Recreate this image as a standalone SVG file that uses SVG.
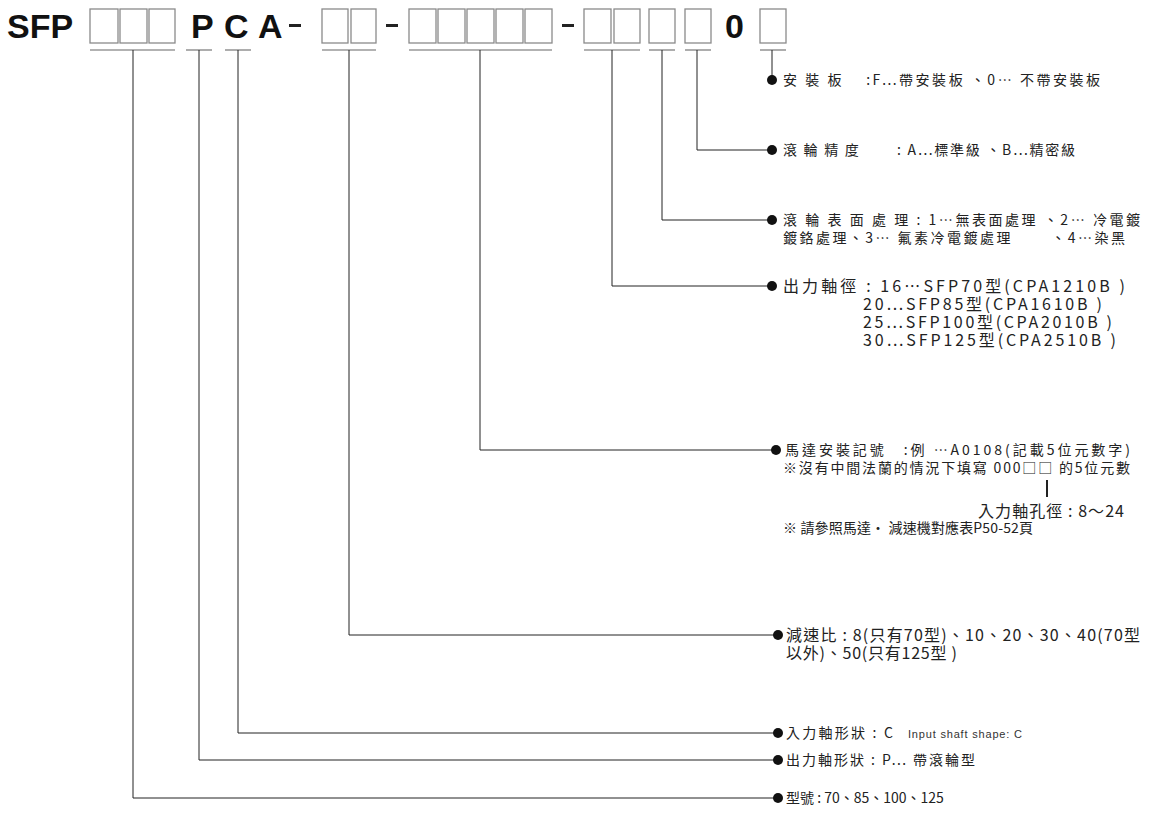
<svg xmlns="http://www.w3.org/2000/svg" width="1157" height="825" viewBox="0 0 1157 825">
<style>
.h{font-family:"Liberation Sans",Arial,sans-serif;font-weight:bold;font-size:34px;fill:#111}
.b{fill:none;stroke:#8a8a8a;stroke-width:1.3}
.u{stroke:#999;stroke-width:1.6}
.c{fill:none;stroke:#222;stroke-width:1}
.t{font-family:"Noto Sans CJK TC","Noto Sans",sans-serif;font-size:14px;fill:#222}
.l{font-size:16px}
.s{font-family:"Liberation Sans",sans-serif;font-size:11px;fill:#333}
</style>
<rect width="1157" height="825" fill="#fff"/>
<g id="code">
<text class="h" x="7" y="38">SFP</text>
<text class="h" x="191" y="38">P</text>
<text class="h" x="224" y="38">C</text>
<text class="h" x="258" y="38">A</text>
<text class="h" x="725" y="38">0</text>
<rect x="289" y="24" width="12" height="3" fill="#222"/>
<rect x="386" y="24" width="12" height="3" fill="#222"/>
<rect x="562" y="24" width="12" height="3" fill="#222"/>
<g class="b">
<rect x="90" y="9" width="28" height="34"/><rect x="120" y="9" width="27" height="34"/><rect x="149" y="9" width="26" height="34"/>
<rect x="322" y="9" width="26" height="34"/><rect x="351" y="9" width="25" height="34"/>
<rect x="409" y="9" width="27" height="34"/><rect x="438" y="9" width="27" height="34"/><rect x="467" y="9" width="27" height="34"/><rect x="496" y="9" width="27" height="34"/><rect x="525" y="9" width="27" height="34"/>
<rect x="584" y="9" width="27" height="34"/><rect x="614" y="9" width="26" height="34"/>
<rect x="649" y="9" width="26" height="34"/><rect x="685" y="9" width="26" height="34"/><rect x="760" y="9" width="26" height="34"/>
</g>
<g class="u">
<line x1="90" y1="50" x2="175" y2="50"/><line x1="186" y1="50" x2="212" y2="50"/><line x1="225" y1="50" x2="251" y2="50"/>
<line x1="322" y1="50" x2="376" y2="50"/><line x1="409" y1="50" x2="552" y2="50"/><line x1="584" y1="50" x2="640" y2="50"/>
<line x1="649" y1="50" x2="675" y2="50"/><line x1="685" y1="50" x2="711" y2="50"/><line x1="760" y1="50" x2="786" y2="50"/>
</g>
</g>
<g id="connectors" class="c">
<polyline points="772,50 772,80"/>
<polyline points="697,50 697,150 772,150"/>
<polyline points="662,50 662,220 772,220"/>
<polyline points="612,50 612,286 772,286"/>
<polyline points="480,50 480,450 776,450"/>
<polyline points="349,50 349,635 778,635"/>
<polyline points="238,50 238,733 778,733"/>
<polyline points="199,50 199,760 778,760"/>
<polyline points="133,50 133,798 778,798"/>
<line x1="1047" y1="480" x2="1047" y2="497" stroke-width="2"/>
</g>
<g fill="#111">
<circle cx="772" cy="80" r="5"/><circle cx="772" cy="150" r="5"/><circle cx="772" cy="220" r="5"/><circle cx="772" cy="286" r="5"/>
<circle cx="776" cy="450" r="5"/><circle cx="778" cy="635" r="5"/><circle cx="778" cy="733" r="5"/><circle cx="778" cy="760" r="5"/><circle cx="778" cy="798" r="5"/>
</g>
<g id="n1"><text class="t" x="783" y="85" textLength="317" lengthAdjust="spacing">安 裝 板　 :F…帶安裝板 、0… 不帶安裝板</text></g>
<g id="n2"><text class="t" x="783" y="155" textLength="292" lengthAdjust="spacing">滾 輪 精 度　　 : A…標準級 、B…精密級</text></g>
<g id="n3"><text class="t" x="783" y="225" textLength="357" lengthAdjust="spacing">滾 輪 表 面 處 理 : 1…無表面處理 、2… 冷電鍍</text><text class="t" x="783" y="243" textLength="342" lengthAdjust="spacing">鍍鉻處理、3… 氟素冷電鍍處理　　 、4…染黑</text></g>
<g id="n4"><text class="t l" x="783" y="292" textLength="342" lengthAdjust="spacing">出力軸徑 : 16…SFP70型(CPA1210B )</text><text class="t l" x="863" y="310" textLength="239" lengthAdjust="spacing">20…SFP85型(CPA1610B )</text><text class="t l" x="863" y="328" textLength="249" lengthAdjust="spacing">25…SFP100型(CPA2010B )</text><text class="t l" x="863" y="346" textLength="253" lengthAdjust="spacing">30…SFP125型(CPA2510B )</text></g>
<g id="n5"><text class="t" x="785" y="455" textLength="345" lengthAdjust="spacing">馬達安裝記號　:例 …A0108(記載5位元數字)</text><text class="t" x="783" y="473" textLength="347" lengthAdjust="spacing">※沒有中間法蘭的情況下填寫 000□□ 的5位元數</text><text class="t l" x="978" y="517" textLength="146" lengthAdjust="spacing">入力軸孔徑 : 8～24</text><text class="t" x="783" y="533" textLength="250" lengthAdjust="spacing">※ 請參照馬達・ 減速機對應表P50-52頁</text></g>
<g id="n6"><text class="t l" x="786" y="641" textLength="354" lengthAdjust="spacing">減速比 : 8(只有70型)、10、20、30、40(70型</text><text class="t l" x="786" y="659" textLength="171" lengthAdjust="spacing">以外)、50(只有125型 )</text></g>
<g id="n7"><text class="t" x="786" y="738" textLength="107" lengthAdjust="spacing">入力軸形狀 : C</text><text class="s" x="908" y="738" textLength="114" lengthAdjust="spacing">Input shaft shape: C</text></g>
<g id="n8"><text class="t" x="786" y="765" textLength="189" lengthAdjust="spacing">出力軸形狀 : P… 帶滾輪型</text></g>
<g id="n9"><text class="t" x="786" y="803">型號 : 70、85、100、125</text></g>
</svg>
